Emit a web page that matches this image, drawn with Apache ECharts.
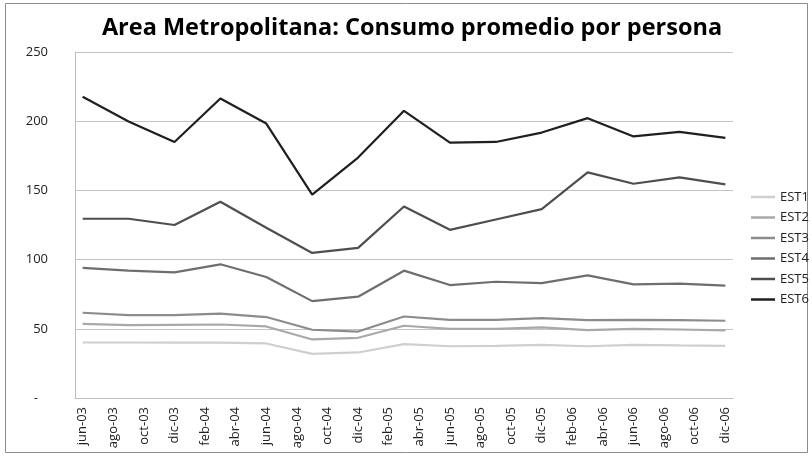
<!DOCTYPE html>
<html>
<head>
<meta charset="utf-8">
<script src="https://cdn.jsdelivr.net/npm/echarts@6/dist/echarts.min.js"></script>
<style>
  html, body { margin: 0; padding: 0; background: #fff; }
  #main { width: 812px; height: 456px; }
</style>
</head>
<body>
<div id="main"></div>
<script>
// monthly date axis (Excel style), labels shown every 2 months
const months = [
  'jun-03','jul-03','ago-03','sep-03','oct-03','nov-03','dic-03',
  'ene-04','feb-04','mar-04','abr-04','may-04','jun-04','jul-04','ago-04','sep-04','oct-04','nov-04','dic-04',
  'ene-05','feb-05','mar-05','abr-05','may-05','jun-05','jul-05','ago-05','sep-05','oct-05','nov-05','dic-05',
  'ene-06','feb-06','mar-06','abr-06','may-06','jun-06','jul-06','ago-06','sep-06','oct-06','nov-06','dic-06'
];
// quarterly observations
const periods = ['jun-03','sep-03','dic-03','mar-04','jun-04','sep-04','dic-04','mar-05',
                 'jun-05','sep-05','dic-05','mar-06','jun-06','sep-06','dic-06'];

const est1 = [40.1, 40.1, 40.0, 40.0, 39.4, 31.9, 32.9, 38.9, 37.4, 37.7, 38.4, 37.4, 38.4, 38.0, 37.7];
const est2 = [53.6, 52.7, 52.9, 53.1, 51.7, 42.3, 43.5, 52.2, 50.0, 50.0, 51.0, 49.0, 50.0, 49.5, 48.8];
const est3 = [61.6, 59.9, 59.9, 60.9, 58.5, 49.3, 48.0, 58.9, 56.5, 56.5, 57.7, 56.3, 56.5, 56.3, 55.8];
const est4 = [94.0, 92.0, 90.8, 96.6, 87.4, 70.0, 73.2, 92.0, 81.6, 84.0, 83.0, 88.6, 82.1, 82.6, 81.2];
const est5 = [129.5, 129.5, 125.0, 141.8, 123.0, 104.8, 108.5, 138.4, 121.5, 129.0, 136.5, 163.0, 154.8, 159.4, 154.3];
const est6 = [217.6, 199.8, 185.0, 216.4, 198.3, 147.0, 173.7, 207.5, 184.5, 185.0, 191.8, 202.2, 189.0, 192.3, 188.0];

const seriesNames = ['EST1','EST2','EST3','EST4','EST5','EST6'];
const seriesValues = [est1, est2, est3, est4, est5, est6];
const colors = ['#cfcfcf','#a9a9a9','#8c8c8c','#6e6e6e','#4e4e4e','#1f1f1f'];

const font = '"Open Sans", sans-serif';

const chart = echarts.init(document.getElementById('main'));
chart.setOption({
  animation: false,
  color: colors,
  title: {
    text: 'Area Metropolitana: Consumo promedio por persona',
    left: 407,
    textAlign: 'center',
    top: 11,
    textStyle: { fontFamily: font, fontSize: 23.5, fontWeight: 'bold', color: '#000' }
  },
  graphic: [{
    type: 'rect',
    shape: { x: 5.5, y: 3.5, width: 802, height: 449 },
    style: { fill: 'none', stroke: '#8c8c8c', lineWidth: 1 }
  }],
  legend: {
    orient: 'vertical',
    left: 746,
    top: 185,
    icon: 'rect',
    itemWidth: 24,
    itemHeight: 2.5,
    itemGap: 6.5,
    data: seriesNames,
    textStyle: { fontFamily: font, fontSize: 13, lineHeight: 14, color: '#222' }
  },
  grid: { left: 75, right: 79, top: 52, bottom: 58 },
  xAxis: {
    type: 'category',
    data: months,
    boundaryGap: true,
    axisLine: { lineStyle: { color: '#bdbdbd' } },
    axisTick: { show: false },
    axisLabel: {
      interval: 1,
      rotate: 90,
      margin: 9,
      fontFamily: font,
      fontSize: 13,
      color: '#222'
    }
  },
  yAxis: {
    type: 'value',
    min: 0,
    max: 250,
    interval: 50,
    axisLine: { show: true, lineStyle: { color: '#bdbdbd' } },
    axisTick: { show: false },
    splitLine: { lineStyle: { color: '#c4c4c4' } },
    axisLabel: {
      margin: 27,
      fontFamily: font,
      fontSize: 13,
      color: '#222',
      formatter: v => (v === 0 ? '-   ' : String(v))
    }
  },
  series: seriesNames.map((name, k) => ({
    name: name,
    type: 'line',
    symbol: 'none',
    lineStyle: { width: 2.2, color: colors[k] },
    data: periods.map((p, i) => [p, seriesValues[k][i]])
  }))
});
</script>
</body>
</html>
